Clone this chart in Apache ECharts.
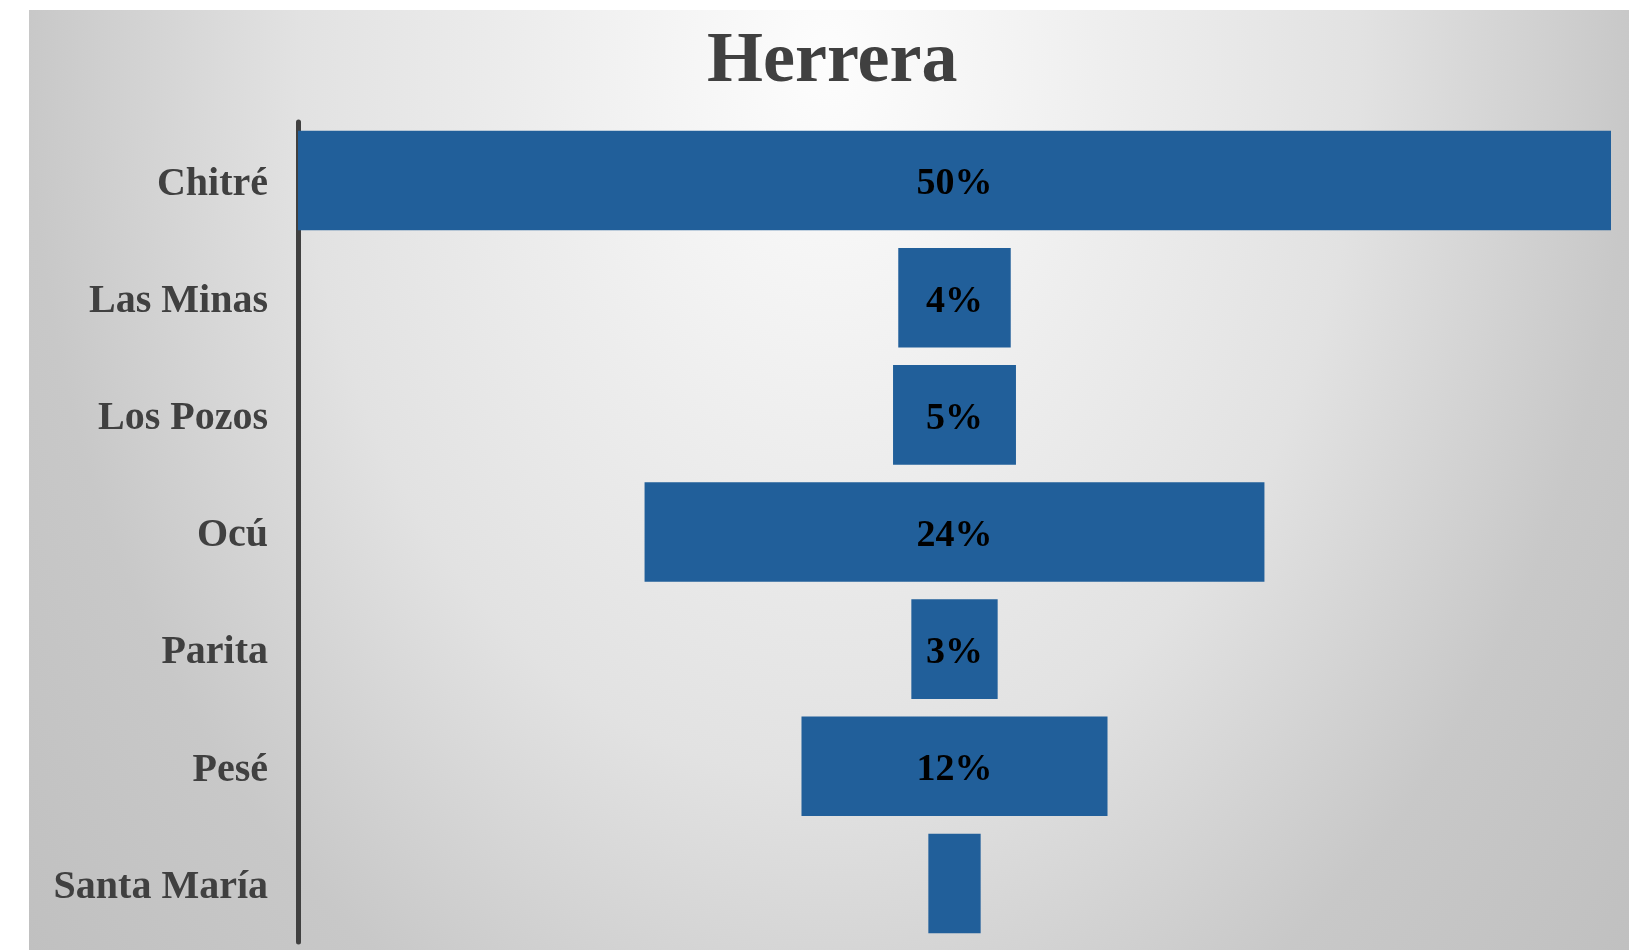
<!DOCTYPE html>
<html>
<head>
<meta charset="utf-8">
<title>Herrera</title>
<script src="https://cdn.jsdelivr.net/npm/echarts@6/dist/echarts.min.js"></script>
<style>
    html, body {
        margin: 0;
        padding: 0;
        background: #ffffff;
    }

    #chart {
        position: absolute;
        left: 29px;
        top: 10px;
        width: 1600px;
        height: 940px;
    }
</style>
</head>
<body>
<div id="chart"></div>
<script>
    // datos (porcentaje por distrito)
    const distritos = ['Chitré', 'Las Minas', 'Los Pozos', 'Ocú', 'Parita', 'Pesé', 'Santa María']
    const porcentajes = [50.2, 4.3, 4.7, 23.7, 3.3, 11.7, 2.0]
    const sinEtiqueta = ['Santa María']

    const serif = "'Times New Roman', 'Liberation Serif', serif"
    const maximo = Math.max(...porcentajes)

    // barra invisible para centrar cada barra (embudo)
    const relleno = porcentajes.map(v => (maximo - v) / 2)
    const valores = porcentajes.map((v, i) => ({
        value: v,
        label: { show: sinEtiqueta.indexOf(distritos[i]) < 0 }
    }))

    // fondo: degradado radial estirado en vertical (elipse)
    const estiramiento = 1.35
    const fondo = {
        type: 'rect',
        x: 0,
        y: 0,
        scaleY: estiramiento,
        z: -100,
        silent: true,
        shape: { x: 0, y: 0, width: 1600, height: 940 / estiramiento },
        style: {
            fill: {
                type: 'radial',
                x: 0.5,
                y: 0.053,
                r: 1.494,
                colorStops: [
                    { offset: 0, color: '#fdfdfd' },
                    { offset: 0.29, color: '#ededed' },
                    { offset: 0.51, color: '#e2e2e2' },
                    { offset: 0.77, color: '#c8c8c8' },
                    { offset: 1, color: '#c0c0c0' }
                ]
            }
        }
    }

    const chart = echarts.init(document.getElementById('chart'))
    chart.setOption({
        animation: false,
        backgroundColor: '#c8c8c8',
        graphic: [fondo],
        title: {
            text: 'Herrera',
            left: 673,
            top: 11,
            textStyle: {
                fontFamily: serif,
                fontSize: 72,
                fontWeight: 'bold',
                color: '#404040'
            }
        },
        grid: {
            left: 269,
            right: 18,
            top: 112,
            bottom: 8
        },
        xAxis: {
            type: 'value',
            min: 0,
            max: maximo,
            show: false
        },
        yAxis: {
            type: 'category',
            data: distritos,
            inverse: true,
            offset: 3,
            axisLine: {
                lineStyle: { color: '#404040', width: 5 }
            },
            axisTick: { show: false },
            splitLine: { show: false },
            axisLabel: {
                margin: 27,
                formatter: v => '{d|' + v + '}',
                rich: {
                    d: {
                        padding: [8, 0, 0, 0],
                        fontFamily: serif,
                        fontSize: 40,
                        fontWeight: 'bold',
                        color: '#404040'
                    }
                }
            }
        },
        series: [
            {
                type: 'bar',
                stack: 'embudo',
                data: relleno,
                silent: true,
                itemStyle: { color: 'transparent' },
                barCategoryGap: '15%'
            },
            {
                type: 'bar',
                stack: 'embudo',
                data: valores,
                barCategoryGap: '15%',
                itemStyle: { color: '#215f9a' },
                label: {
                    position: 'inside',
                    offset: [0, 4],
                    formatter: p => Math.round(p.value) + '%',
                    fontFamily: serif,
                    fontSize: 38,
                    fontWeight: 'bold',
                    color: '#000000'
                }
            }
        ]
    })
</script>
</body>
</html>
